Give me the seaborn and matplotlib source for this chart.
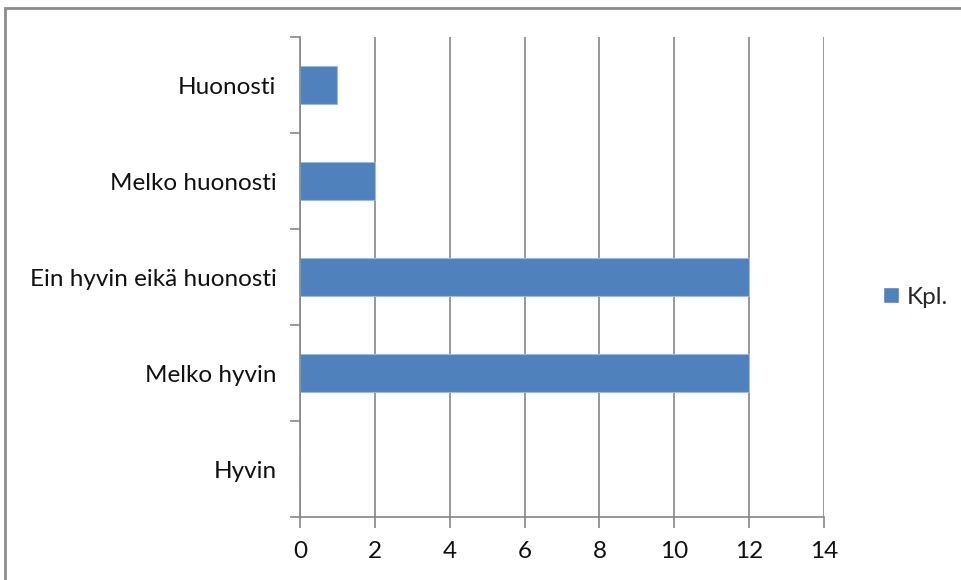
import matplotlib
matplotlib.use("Agg")
import matplotlib.pyplot as plt
import seaborn as sns
import pandas as pd
from matplotlib.patches import Rectangle, Patch
from matplotlib.ticker import FixedLocator

categories = ["Huonosti", "Melko huonosti", "Ein hyvin eikä huonosti", "Melko hyvin", "Hyvin"]
values = [1, 2, 12, 12, 0]
series_name = "Kpl."
x_ticks = [0, 2, 4, 6, 8, 10, 12, 14]

sns.set_theme(style="white")
plt.rcParams['font.family'] = ['Lato', 'DejaVu Sans']

bar_color = "#4F81BD"
grid_color = "#868686"
fs = 17.5

fig = plt.figure(figsize=(9.61, 5.8), dpi=100)
ax = fig.add_axes([300/961, 63/580, 524/961, 480/580])

df = pd.DataFrame({"cat": categories, "val": values})
sns.barplot(data=df, x="val", y="cat", color=bar_color, width=0.4, ax=ax,
            orient="h", saturation=1, edgecolor="#9db8dc", linewidth=0.8)

ax.set_xlim(0, 14)
ax.set_ylim(len(categories) - 0.5, -0.5)
ax.set_xticks(x_ticks)
ax.set_xticklabels([str(t) for t in x_ticks])
ax.set_xlabel("")
ax.set_ylabel("")
ax.grid(axis="x", color=grid_color, linewidth=1.2)
ax.set_axisbelow(True)

ax.yaxis.set_minor_locator(FixedLocator([i - 0.5 for i in range(len(categories) + 1)]))
ax.tick_params(axis="y", which="major", length=0, pad=17, labelsize=fs, colors="#111111")
ax.tick_params(axis="y", which="minor", length=7, width=1.2, color=grid_color, left=True)
ax.tick_params(axis="x", which="major", length=8, width=1.2, color=grid_color,
               bottom=True, labelsize=fs, pad=9, labelcolor="#111111")

for s in ["top", "right"]:
    ax.spines[s].set_visible(False)
for s in ["left", "bottom"]:
    ax.spines[s].set_color(grid_color)
    ax.spines[s].set_linewidth(1.2)

leg = fig.legend(handles=[Patch(facecolor=bar_color, label=series_name)],
                 loc="center left", bbox_to_anchor=(861/961, 1 - 297/580),
                 frameon=False, fontsize=fs, handlelength=0.65, handleheight=0.65,
                 handletextpad=0.35)

fig.patches.append(Rectangle((5/961, -0.05), 1.0, 1 - 8/580 + 0.05, transform=fig.transFigure,
                             fill=False, edgecolor="#8c8c8c", linewidth=2, zorder=-1))

fig.savefig("out.png", dpi=100)
